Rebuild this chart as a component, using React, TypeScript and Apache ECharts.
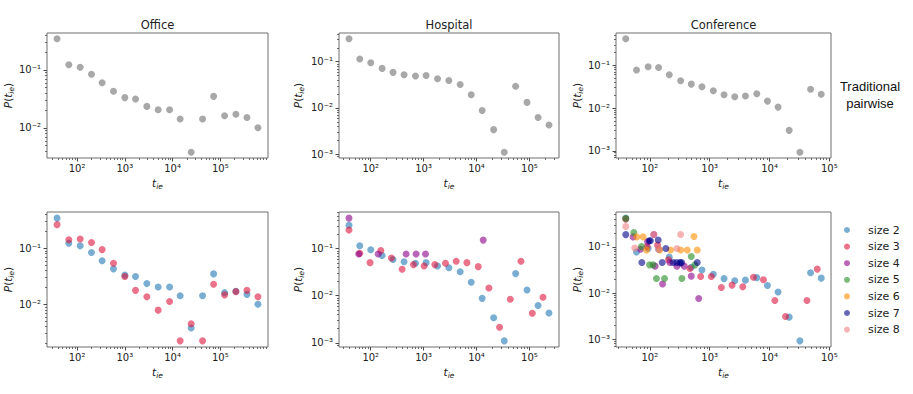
import React, { useEffect, useRef } from 'react';
import * as echarts from 'echarts';

// ---------- data ----------
const officeX = [38, 67, 116, 200, 334, 579, 1000, 1674, 2890, 4990, 8650, 14400, 24500, 42500, 72300, 123000, 212000, 361000, 614000];
const officePairwise = [0.345, 0.123, 0.111, 0.084, 0.06, 0.043, 0.0333, 0.0315, 0.0235, 0.0205, 0.0205, 0.0143, 0.0038, 0.0143, 0.035, 0.0162, 0.0172, 0.0151, 0.0101];
const officeSize3 = [0.264, 0.142, 0.146, 0.127, 0.0948, 0.054, 0.0314, 0.0178, 0.0137, 0.0079, 0.0113, 0.00224, 0.00452, 0.00224, 0.0228, 0.0148, 0.0169, 0.0178, 0.0137];

const hospitalX = [38.8, 62, 100, 164, 264, 427, 702, 1114, 1832, 3000, 4910, 7940, 12800, 21100, 33500, 55000, 90200, 146000, 235000];
const hospitalPairwise = [0.315, 0.115, 0.095, 0.0718, 0.0589, 0.0525, 0.049, 0.0505, 0.0428, 0.0392, 0.0323, 0.0193, 0.0088, 0.0034, 0.0011, 0.0295, 0.0132, 0.0062, 0.0043];
const hospitalX3 = [38.8, 61.9, 97, 155, 246, 392, 642, 1023, 1630, 2594, 4130, 6580, 10780, 17150, 27300, 43500, 69200, 113500, 181000];
const hospitalSize3 = [0.248, 0.0795, 0.0505, 0.0908, 0.0632, 0.0364, 0.0458, 0.0429, 0.0458, 0.0489, 0.0538, 0.0505, 0.0415, 0.0146, 0.00215, 0.00843, 0.0538, 0.00425, 0.0093];
const hospitalX4 = [38.8, 59.3, 138, 467, 721, 1086, 13400];
const hospitalSize4 = [0.445, 0.0769, 0.0769, 0.0769, 0.0769, 0.0769, 0.152];

const conferenceX = [39.6, 59.9, 93.7, 140, 211, 327, 492, 743, 1150, 1738, 2624, 3954, 6124, 9230, 13900, 21300, 32200, 48500, 73100];
const conferencePairwise = [0.418, 0.0775, 0.0918, 0.0885, 0.0598, 0.0434, 0.0362, 0.0315, 0.0254, 0.0205, 0.0184, 0.019, 0.0215, 0.0145, 0.0105, 0.003, 0.00092, 0.0275, 0.021];
const conferenceX3 = [39.6, 90, 134.5, 205, 468, 706, 1064, 1566, 2366, 3575, 5385, 7910, 12270, 18500, 42200, 62700];
const conferenceSize3 = [0.398, 0.101, 0.109, 0.0524, 0.034, 0.0228, 0.0228, 0.0132, 0.0148, 0.0136, 0.022, 0.0193, 0.00689, 0.0031, 0.00689, 0.0329];
const conferenceX4 = [52.5, 69.8, 91.5, 116.6, 122.7, 163, 216, 283, 376, 492, 655];
const conferenceSize4 = [0.164, 0.089, 0.128, 0.185, 0.0382, 0.0156, 0.0457, 0.0382, 0.0382, 0.0232, 0.0076];
const conferenceX5 = [39.6, 54, 72.6, 98.9, 113.5, 129, 176, 343, 492, 567];
const conferenceSize5 = [0.41, 0.204, 0.101, 0.0407, 0.0407, 0.0206, 0.0206, 0.0206, 0.0616, 0.0407];
const conferenceX6 = [60.5, 77.3, 88, 147, 222, 327, 422, 546, 620];
const conferenceSize6 = [0.164, 0.164, 0.085, 0.085, 0.085, 0.085, 0.085, 0.167, 0.085];
const conferenceX7 = [39.6, 73.5, 97.3, 102, 138, 161, 185, 245, 280, 318, 340, 620];
const conferenceSize7 = [0.184, 0.0457, 0.135, 0.135, 0.14, 0.0457, 0.092, 0.0457, 0.0457, 0.0457, 0.0457, 0.0457];
const conferenceX8 = [39.6, 56, 116.6, 140, 283, 327];
const conferenceSize8 = [0.275, 0.094, 0.185, 0.089, 0.092, 0.185];

const panelTitles = ['Office', 'Hospital', 'Conference'];
const legendNames = ['size 2', 'size 3', 'size 4', 'size 5', 'size 6', 'size 7', 'size 8'];
const rowLabel = ['Traditional', 'pairwise'];

// ---------- styling ----------
const FONT = 'DejaVu Sans';
const COLORS: Record<string, string> = {
  pairwise: 'rgba(128,128,128,0.86)',
  'size 2': 'rgba(31,119,180,0.75)',
  'size 3': 'rgba(220,20,60,0.75)',
  'size 4': 'rgba(139,0,139,0.75)',
  'size 5': 'rgba(34,139,34,0.75)',
  'size 6': 'rgba(255,140,0,0.75)',
  'size 7': 'rgba(0,0,139,0.75)',
  'size 8': 'rgba(240,128,128,0.75)',
};

const SUP: Record<string, string> = { '-': '\u207B', '0': '\u2070', '1': '\u00B9', '2': '\u00B2', '3': '\u00B3', '4': '\u2074', '5': '\u2075', '6': '\u2076', '7': '\u2077', '8': '\u2078', '9': '\u2079' };
const powLabel = (v: number) => '10' + String(Math.round(Math.log10(v))).split('').map((c) => SUP[c]).join('');

function logRange(values: number[]): [number, number] {
  const logs = values.map((v) => Math.log10(v));
  const lo = Math.min(...logs);
  const hi = Math.max(...logs);
  const m = (hi - lo) * 0.05;
  return [Math.pow(10, lo - m), Math.pow(10, hi + m)];
}
function majorTicks([a, b]: [number, number]) {
  const out: number[] = [];
  for (let d = Math.floor(Math.log10(a)); d <= Math.ceil(Math.log10(b)); d++) {
    const v = Math.pow(10, d);
    if (v >= a && v <= b) out.push(v);
  }
  return out;
}
function minorTicks([a, b]: [number, number]) {
  const out: number[] = [];
  for (let d = Math.floor(Math.log10(a)); d <= Math.ceil(Math.log10(b)); d++) {
    for (let k = 2; k <= 9; k++) {
      const v = k * Math.pow(10, d);
      if (v >= a && v <= b) out.push(v);
    }
  }
  return out;
}

type S = { name: string; x: number[]; y: number[] };
type Panel = { grid: { left: number; top: number; width: number; height: number }; series: S[]; yGap: number; xGap: number };

const panels: Panel[] = [
  { grid: { left: 47, top: 33, width: 221, height: 125 }, yGap: 29, xGap: 18, series: [{ name: 'pairwise', x: officeX, y: officePairwise }] },
  { grid: { left: 339, top: 33, width: 220, height: 125 }, yGap: 34, xGap: 18, series: [{ name: 'pairwise', x: hospitalX, y: hospitalPairwise }] },
  { grid: { left: 616, top: 33, width: 215, height: 125 }, yGap: 32, xGap: 18, series: [{ name: 'pairwise', x: conferenceX, y: conferencePairwise }] },
  {
    grid: { left: 47, top: 212, width: 221, height: 135 }, yGap: 29, xGap: 18,
    series: [
      { name: 'size 2', x: officeX, y: officePairwise },
      { name: 'size 3', x: officeX, y: officeSize3 },
    ],
  },
  {
    grid: { left: 339, top: 212, width: 220, height: 135 }, yGap: 34, xGap: 18,
    series: [
      { name: 'size 2', x: hospitalX, y: hospitalPairwise },
      { name: 'size 3', x: hospitalX3, y: hospitalSize3 },
      { name: 'size 4', x: hospitalX4, y: hospitalSize4 },
    ],
  },
  {
    grid: { left: 616, top: 212, width: 215, height: 135 }, yGap: 32, xGap: 18,
    series: [
      { name: 'size 2', x: conferenceX, y: conferencePairwise },
      { name: 'size 3', x: conferenceX3, y: conferenceSize3 },
      { name: 'size 4', x: conferenceX4, y: conferenceSize4 },
      { name: 'size 5', x: conferenceX5, y: conferenceSize5 },
      { name: 'size 6', x: conferenceX6, y: conferenceSize6 },
      { name: 'size 7', x: conferenceX7, y: conferenceSize7 },
      { name: 'size 8', x: conferenceX8, y: conferenceSize8 },
    ],
  },
];

const TICK_COLOR = '#4a4a4a';
const LABEL_COLOR = '#222';

const nameRich = {
  i: { fontStyle: 'italic', fontSize: 10.5, fontFamily: FONT, color: LABEL_COLOR },
  n: { fontSize: 10.5, fontFamily: FONT, color: LABEL_COLOR },
  s: { fontStyle: 'italic', fontSize: 7.5, fontFamily: FONT, color: LABEL_COLOR, padding: [6, 0, 0, 0] },
};

function buildOption() {
  const grids: any[] = [];
  const xAxes: any[] = [];
  const yAxes: any[] = [];
  const series: any[] = [];
  panels.forEach((p, i) => {
    grids.push({ ...p.grid, show: true, borderColor: '#6e6e6e', borderWidth: 1, backgroundColor: 'transparent' });
    const xr = logRange(p.series.flatMap((s) => s.x));
    const yr = logRange(p.series.flatMap((s) => s.y));
    const xMaj = majorTicks(xr);
    const yMaj = majorTicks(yr);
    const common = { type: 'log', logBase: 10, gridIndex: i, axisLine: { show: false }, splitLine: { show: false } };
    xAxes.push({
      ...common, min: xr[0], max: xr[1], position: 'bottom',
      axisTick: { show: true, length: 3.5, lineStyle: { color: TICK_COLOR, width: 1 }, customValues: xMaj },
      axisLabel: { customValues: xMaj, formatter: powLabel, margin: 5.5, fontSize: 10, color: LABEL_COLOR, fontFamily: FONT },
      name: '{i|t}{s|ie}', nameLocation: 'middle', nameGap: p.xGap,
      nameTextStyle: { rich: nameRich },
    });
    xAxes.push({
      ...common, min: xr[0], max: xr[1], position: 'bottom',
      axisTick: { show: true, length: 2, lineStyle: { color: TICK_COLOR, width: 0.8 }, customValues: minorTicks(xr) },
      axisLabel: { show: false },
    });
    yAxes.push({
      ...common, min: yr[0], max: yr[1], position: 'left',
      axisTick: { show: true, length: 3.5, lineStyle: { color: TICK_COLOR, width: 1 }, customValues: yMaj },
      axisLabel: { customValues: yMaj, formatter: powLabel, margin: 6, fontSize: 10, color: LABEL_COLOR, fontFamily: FONT },
      name: '{i|P}{n|(}{i|t}{s|ie}{n|)}', nameLocation: 'middle', nameGap: p.yGap, nameRotate: 90,
      nameTextStyle: { rich: nameRich },
    });
    yAxes.push({
      ...common, min: yr[0], max: yr[1], position: 'left',
      axisTick: { show: true, length: 2, lineStyle: { color: TICK_COLOR, width: 0.8 }, customValues: minorTicks(yr) },
      axisLabel: { show: false },
    });
    p.series.forEach((s) => {
      series.push({
        type: 'scatter', name: s.name, xAxisIndex: 2 * i, yAxisIndex: 2 * i,
        symbol: 'circle', symbolSize: 7,
        itemStyle: { color: COLORS[s.name], borderWidth: 0 },
        data: s.x.map((v, k) => [v, s.y[k]]),
      });
    });
  });

  const graphic: any[] = panelTitles.map((t, i) => ({
    type: 'text', x: panels[i].grid.left + panels[i].grid.width / 2, y: 25,
    style: { text: t, align: 'center', verticalAlign: 'middle', fontSize: 11.5, fontFamily: FONT, fill: LABEL_COLOR },
  }));
  rowLabel.forEach((t, k) => {
    graphic.push({
      type: 'text', x: 870, y: 86 + k * 17,
      style: { text: t, align: 'center', verticalAlign: 'middle', fontSize: 13, fontFamily: 'Liberation Sans', fill: '#111' },
    });
  });

  return {
    animation: false,
    grid: grids,
    xAxis: xAxes,
    yAxis: yAxes,
    series,
    graphic,
    legend: {
      data: legendNames,
      orient: 'vertical',
      left: 844,
      top: 223,
      padding: 0,
      itemWidth: 6,
      itemHeight: 6,
      itemGap: 2.6,
      icon: 'circle',
      textStyle: { fontSize: 11, lineHeight: 14, color: LABEL_COLOR, fontFamily: FONT, padding: [0, 0, 0, 13] },
      selectedMode: false,
    },
  };
}

export default function App() {
  const ref = useRef<HTMLDivElement>(null);
  useEffect(() => {
    if (!ref.current) return;
    const chart = echarts.init(ref.current, undefined, { renderer: 'svg' });
    chart.setOption(buildOption() as any);
    return () => chart.dispose();
  }, []);
  return <div ref={ref} style={{ position: 'absolute', left: 0, top: 0, width: 913, height: 394, background: '#fff' }} />;
}
